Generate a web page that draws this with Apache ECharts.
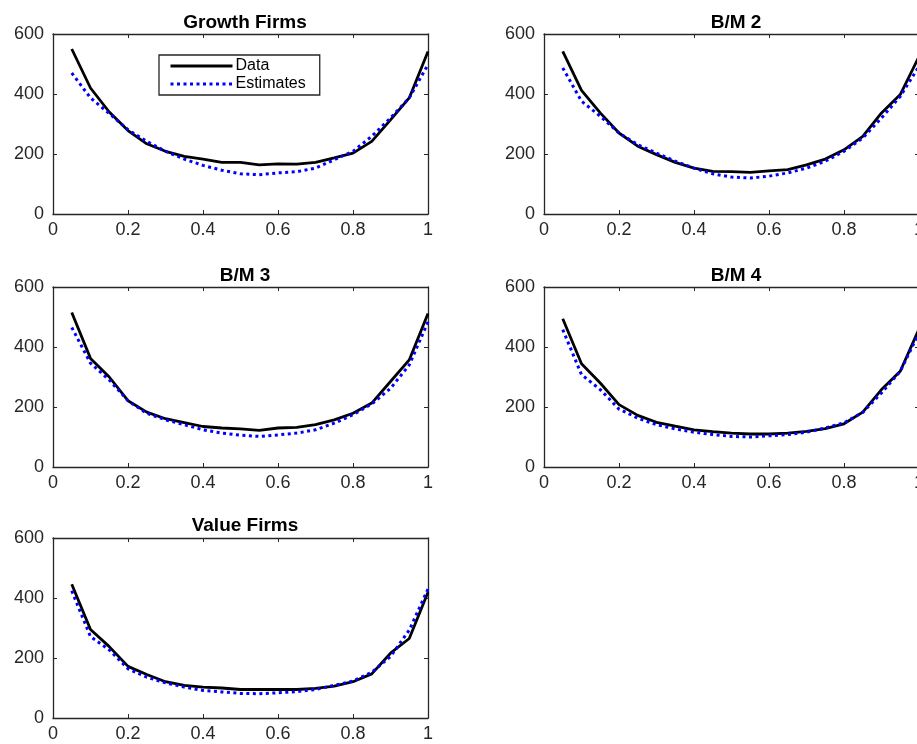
<!DOCTYPE html>
<html>
<head>
<meta charset="utf-8">
<title>Data vs Estimates</title>
<script src="https://cdn.jsdelivr.net/npm/echarts@6/dist/echarts.min.js"></script>
<style>
  html, body { margin: 0; padding: 0; background: #fff; }
  #main { width: 917px; height: 744px; }
</style>
</head>
<body>
<div id="main"></div>
<script>
// x positions of the points
var xs = [0.05, 0.1, 0.15, 0.2, 0.25, 0.3, 0.35, 0.4, 0.45, 0.5,
  0.55, 0.6, 0.65, 0.7, 0.75, 0.8, 0.85, 0.9, 0.95, 1.0]

var titles = ['Growth Firms', 'B/M 2', 'B/M 3', 'B/M 4', 'Value Firms']
var xTicks = [0, 0.2, 0.4, 0.6, 0.8, 1]
var yTicks = [0, 200, 400, 600]

var growthData = [550, 420, 340, 278, 234, 209, 192, 183, 172, 172, 164, 167, 166, 172, 187, 203, 242, 314, 387, 542]
var growthEst = [470, 387, 335, 281, 242, 209, 183, 162, 146, 134, 131, 137, 141, 153, 181, 209, 259, 320, 387, 498]
var bm2Data = [542, 412, 337, 270, 226, 198, 172, 153, 142, 141, 139, 144, 148, 164, 183, 214, 259, 337, 398, 525]
var bm2Est = [487, 376, 326, 270, 231, 203, 176, 153, 134, 123, 120, 126, 137, 153, 176, 209, 253, 320, 392, 492]
var bm3Data = [515, 362, 300, 221, 183, 161, 148, 135, 130, 127, 122, 130, 132, 141, 157, 179, 213, 285, 357, 512]
var bm3Est = [465, 346, 290, 221, 179, 157, 141, 124, 113, 106, 102, 107, 113, 124, 146, 174, 210, 262, 340, 484]
var bm4Data = [494, 344, 280, 208, 172, 149, 136, 124, 118, 113, 110, 110, 113, 119, 128, 144, 183, 258, 319, 460]
var bm4Est = [458, 308, 258, 193, 163, 141, 127, 116, 108, 102, 100, 104, 108, 116, 130, 147, 182, 247, 319, 447]
var valueData = [446, 295, 238, 172, 145, 121, 109, 103, 100, 95, 95, 95, 95, 99, 106, 121, 147, 216, 265, 419]
var valueEst = [424, 271, 227, 164, 136, 117, 103, 92, 87, 82, 81, 84, 88, 95, 109, 123, 152, 205, 293, 430]

var dataSets = [growthData, bm2Data, bm3Data, bm4Data, valueData]
var estSets = [growthEst, bm2Est, bm3Est, bm4Est, valueEst]

// grid boxes (left, top) in px, all 375 x 180
var boxes = [[53, 34], [544, 34], [53, 287], [544, 287], [53, 538]]
var titleTops = [8, 8, 261, 261, 511]

var axisColor = '#262626'
var font = 'Liberation Sans, Arial, Helvetica, sans-serif'

var grids = []
var xAxes = []
var yAxes = []
var series = []
var titleList = []

function pairs (vals) {
  return xs.map(function (x, i) { return [x, vals[i]] })
}

// one axis, used for the four sides of every box
function makeAxis (i, pos, isX, labels) {
  var ax = {
    gridIndex: i,
    type: 'value',
    position: pos,
    min: xTicks[0],
    max: isX ? xTicks[xTicks.length - 1] : yTicks[yTicks.length - 1],
    interval: isX ? 0.2 : 200,
    axisLine: { show: true, onZero: false, lineStyle: { color: axisColor, width: 1.3 } },
    axisTick: { show: true, inside: true, length: 4, lineStyle: { color: axisColor } },
    axisLabel: { show: labels, margin: isX ? 7 : 9, color: axisColor, fontFamily: font, fontSize: 18 },
    splitLine: { show: false }
  }
  if (isX) {
    ax.axisLabel.formatter = function (v) { return String(+v.toFixed(1)) }
  }
  return ax
}

for (var i = 0; i < 5; i++) {
  grids.push({ left: boxes[i][0], top: boxes[i][1], width: 375, height: 180, outerBoundsMode: 'none' })
  titleList.push({
    text: titles[i],
    left: boxes[i][0] + 187,
    top: titleTops[i],
    textAlign: 'center',
    textStyle: { fontFamily: font, fontSize: 19, fontWeight: 'bold', color: '#000' }
  })
  xAxes.push(makeAxis(i, 'bottom', true, true))
  yAxes.push(makeAxis(i, 'left', false, true))
  // top / right sides just for the box and its inner ticks
  xAxes.push(makeAxis(i, 'top', true, false))
  yAxes.push(makeAxis(i, 'right', false, false))

  series.push({
    name: 'Data', type: 'line', xAxisIndex: i * 2, yAxisIndex: i * 2,
    data: pairs(dataSets[i]), symbol: 'none',
    lineStyle: { color: '#000', width: 2.8 }, itemStyle: { color: '#000' }
  })
  series.push({
    name: 'Estimates', type: 'line', xAxisIndex: i * 2, yAxisIndex: i * 2,
    data: pairs(estSets[i]), symbol: 'none',
    lineStyle: { color: '#0000ff', width: 3, type: [3, 3.5] }, itemStyle: { color: '#0000ff' }
  })
}

var chart = echarts.init(document.getElementById('main'))
chart.setOption({
  animation: false,
  backgroundColor: '#fff',
  title: titleList,
  legend: {
    data: ['Data', 'Estimates'],
    orient: 'vertical',
    left: 159,
    top: 55,
    itemWidth: 62,
    itemHeight: 15,
    itemGap: 2,
    padding: [3, 14, 3, 10],
    backgroundColor: '#fff',
    borderColor: axisColor,
    borderWidth: 1.3,
    itemStyle: { opacity: 0 },
    lineStyle: { width: 3 },
    textStyle: { fontFamily: font, fontSize: 16, color: '#000', padding: [0, 0, 0, -2] }
  },
  grid: grids,
  xAxis: xAxes,
  yAxis: yAxes,
  series: series
})
</script>
</body>
</html>
